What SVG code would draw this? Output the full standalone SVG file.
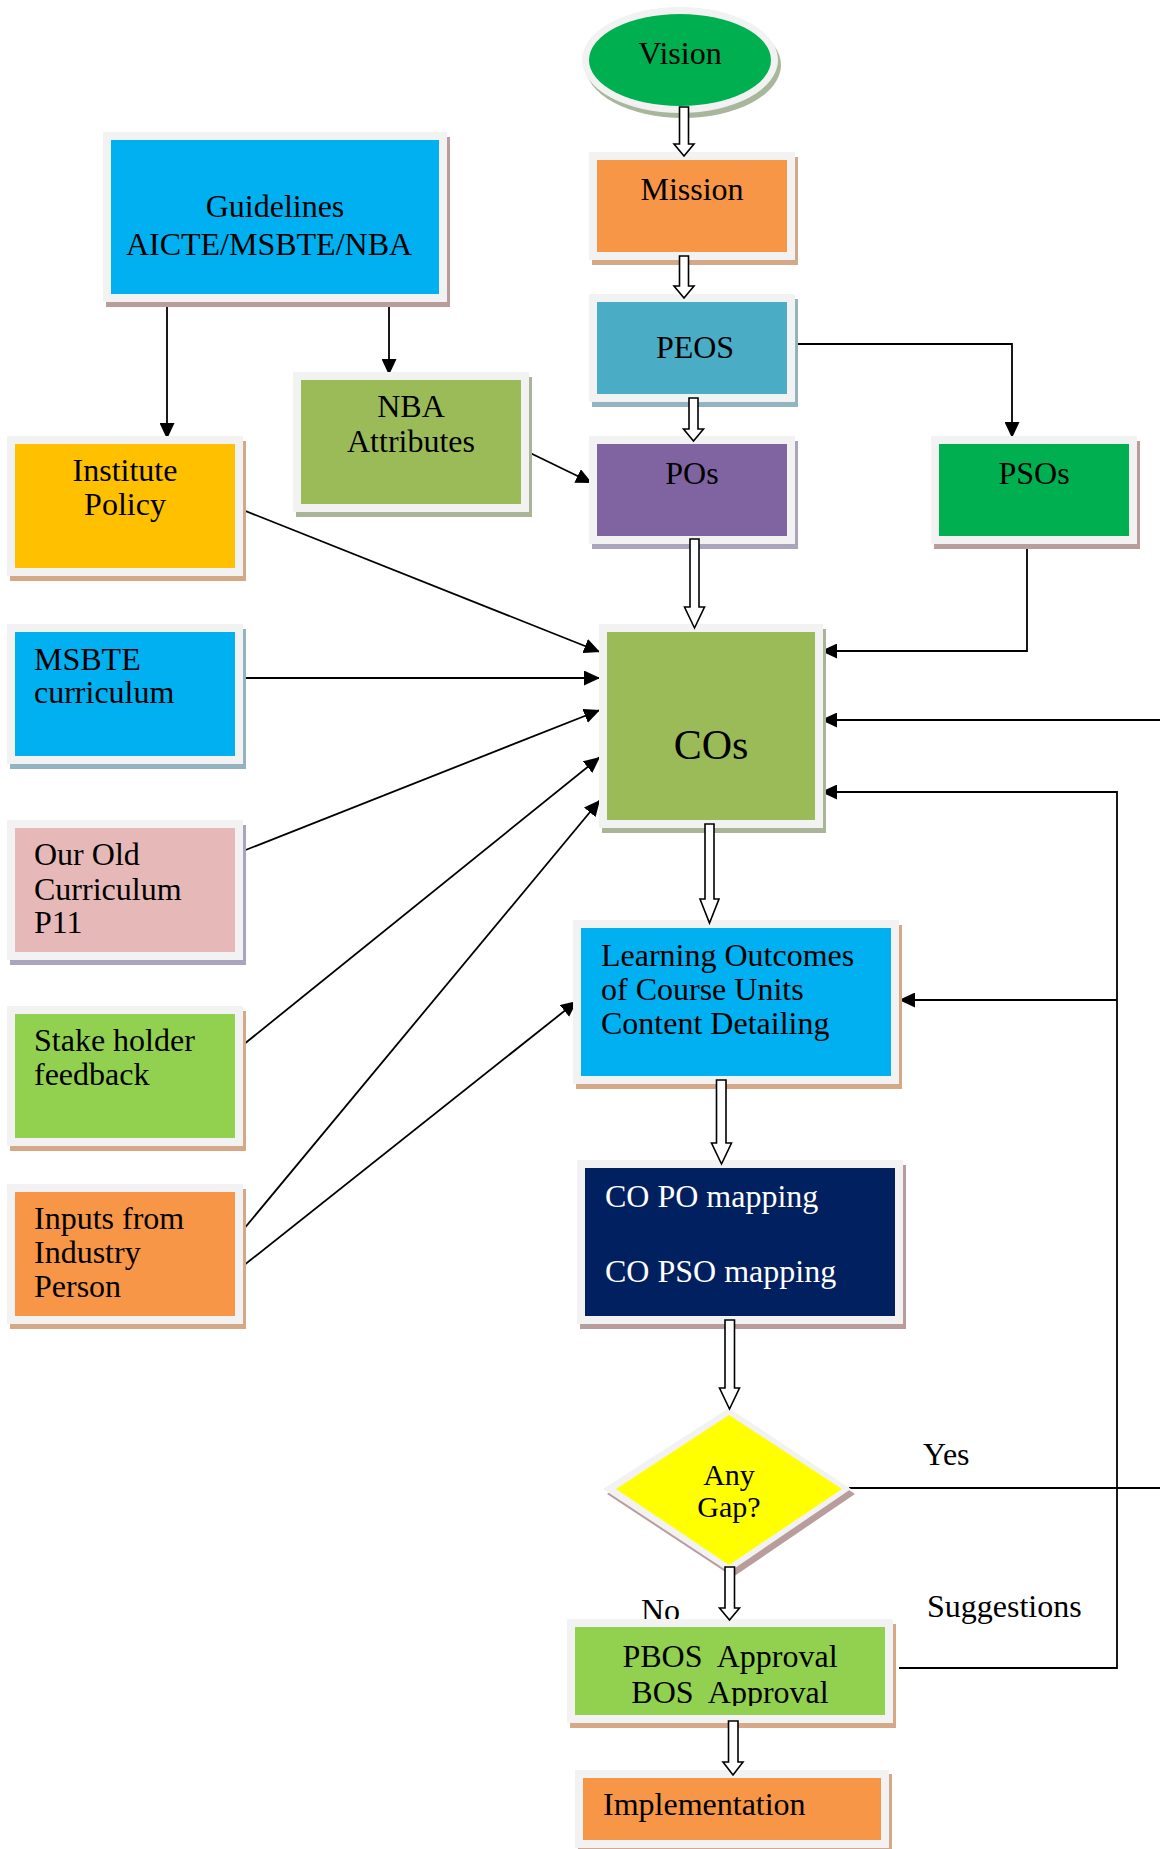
<svg xmlns="http://www.w3.org/2000/svg" width="1160" height="1849" viewBox="0 0 1160 1849">
<defs>
<style>
text{font-family:"Liberation Serif","Times New Roman",serif;font-size:32px;fill:#000}
.c{text-anchor:middle}
.w{fill:#fff}
.b{fill:#f2f2f2}
.ln{fill:none;stroke:#000;stroke-width:1.8}
.ba{fill:#fff;stroke:#000;stroke-width:1.6;stroke-linejoin:miter}
.sh-tan{fill:#d5a987}
.sh-blu{fill:#94b3c1}
.sh-pur{fill:#aaa4bd}
.sh-pnk{fill:#b99c9c}
.sh-grn{fill:#aab597}
</style>
<marker id="ah" markerUnits="userSpaceOnUse" markerWidth="17" markerHeight="15" refX="16" refY="7.5" orient="auto">
<path d="M0,0 L16,7.5 L0,15 Z" fill="#000"/>
</marker>
<clipPath id="pbosclip"><rect x="567" y="1619" width="330" height="87"/></clipPath>
</defs>

<g id="connectors">
<path class="ln" d="M167,297 V439" marker-end="url(#ah)"/>
<path class="ln" d="M389,297 V375" marker-end="url(#ah)"/>
<path class="ln" d="M524,450 L592,483" marker-end="url(#ah)"/>
<path class="ln" d="M791,344 H1012 V438" marker-end="url(#ah)"/>
<path class="ln" d="M1027,539 V651 H821" marker-end="url(#ah)"/>
<path class="ln" d="M849,1488 H1175 V720 H821" marker-end="url(#ah)"/>
<path class="ln" d="M899,1668 H1117 V792 H821" marker-end="url(#ah)"/>
<path class="ln" d="M1117,1000 H899" marker-end="url(#ah)"/>
<path class="ln" d="M238,508 L600,652" marker-end="url(#ah)"/>
<path class="ln" d="M238,678 L600,678" marker-end="url(#ah)"/>
<path class="ln" d="M238,853 L600,710" marker-end="url(#ah)"/>
<path class="ln" d="M238,1049 L600,757" marker-end="url(#ah)"/>
<path class="ln" d="M238,1236 L600,800" marker-end="url(#ah)"/>
<path class="ln" d="M238,1270 L577,1001" marker-end="url(#ah)"/>
<text x="923" y="1465">Yes</text>
<text x="927" y="1617">Suggestions</text>
<text x="641" y="1621">No</text>
</g>

<g id="vision">
<ellipse cx="683" cy="65" rx="98" ry="53" fill="#a8b79b"/>
<ellipse cx="680" cy="60" rx="98" ry="53" class="b"/>
<ellipse cx="680" cy="60" rx="91" ry="46" fill="#00b050"/>
<text class="c" x="680" y="64">Vision</text>
</g>

<g id="mission">
<rect x="592" y="157" width="206" height="108" class="sh-tan"/>
<rect x="589" y="152" width="206" height="108" class="b"/>
<rect x="597" y="160" width="190" height="92" fill="#f79646"/>
<text class="c" x="692" y="200">Mission</text>
</g>

<g id="peos">
<rect x="592" y="299" width="206" height="108" class="sh-blu"/>
<rect x="589" y="294" width="206" height="108" class="b"/>
<rect x="597" y="302" width="190" height="92" fill="#4bacc6"/>
<text class="c" x="695" y="358">PEOS</text>
</g>

<g id="pos">
<rect x="592" y="441" width="206" height="108" class="sh-pur"/>
<rect x="589" y="436" width="206" height="108" class="b"/>
<rect x="597" y="444" width="190" height="92" fill="#8064a2"/>
<text class="c" x="692" y="484">POs</text>
</g>

<g id="psos">
<rect x="934" y="441" width="206" height="108" class="sh-pnk"/>
<rect x="931" y="436" width="206" height="108" class="b"/>
<rect x="939" y="444" width="190" height="92" fill="#00b050"/>
<text class="c" x="1034" y="484">PSOs</text>
</g>

<g id="guidelines">
<rect x="106" y="137" width="344" height="170" class="sh-pnk"/>
<rect x="103" y="132" width="344" height="170" class="b"/>
<rect x="111" y="140" width="328" height="154" fill="#00b0f0"/>
<text class="c" x="275" y="217">Guidelines</text>
<text class="c" x="269" y="255">AICTE/MSBTE/NBA</text>
</g>

<g id="nba">
<rect x="296" y="377" width="236" height="140" class="sh-grn"/>
<rect x="293" y="372" width="236" height="140" class="b"/>
<rect x="301" y="380" width="220" height="124" fill="#9bbb59"/>
<text class="c" x="411" y="417">NBA</text>
<text class="c" x="411" y="452">Attributes</text>
</g>

<g id="institute">
<rect x="10" y="441" width="236" height="140" class="sh-tan"/>
<rect x="7" y="436" width="236" height="140" class="b"/>
<rect x="15" y="444" width="220" height="124" fill="#ffc000"/>
<text class="c" x="125" y="481">Institute</text>
<text class="c" x="125" y="515">Policy</text>
</g>

<g id="msbte">
<rect x="10" y="629" width="236" height="140" class="sh-blu"/>
<rect x="7" y="624" width="236" height="140" class="b"/>
<rect x="15" y="632" width="220" height="124" fill="#00b0f0"/>
<text x="34" y="670">MSBTE</text>
<text x="34" y="703">curriculum</text>
</g>

<g id="oldcurriculum">
<rect x="10" y="825" width="236" height="140" class="sh-pur"/>
<rect x="7" y="820" width="236" height="140" class="b"/>
<rect x="15" y="828" width="220" height="124" fill="#e6b9b8"/>
<text x="34" y="865">Our Old</text>
<text x="34" y="900">Curriculum</text>
<text x="34" y="933">P11</text>
</g>

<g id="stakeholder">
<rect x="10" y="1011" width="236" height="140" class="sh-tan"/>
<rect x="7" y="1006" width="236" height="140" class="b"/>
<rect x="15" y="1014" width="220" height="124" fill="#92d050"/>
<text x="34" y="1051">Stake holder</text>
<text x="34" y="1085">feedback</text>
</g>

<g id="inputs">
<rect x="10" y="1189" width="236" height="140" class="sh-tan"/>
<rect x="7" y="1184" width="236" height="140" class="b"/>
<rect x="15" y="1192" width="220" height="124" fill="#f79646"/>
<text x="34" y="1229">Inputs from</text>
<text x="34" y="1263">Industry</text>
<text x="34" y="1297">Person</text>
</g>

<g id="cos">
<rect x="602" y="629" width="224" height="204" class="sh-grn"/>
<rect x="599" y="624" width="224" height="204" class="b"/>
<rect x="607" y="632" width="208" height="188" fill="#9bbb59"/>
<text class="c" x="711" y="759" style="font-size:42px">COs</text>
</g>

<g id="learningoutcomes">
<rect x="576" y="925" width="326" height="164" class="sh-tan"/>
<rect x="573" y="920" width="326" height="164" class="b"/>
<rect x="581" y="928" width="310" height="148" fill="#00b0f0"/>
<text x="601" y="966">Learning Outcomes</text>
<text x="601" y="1000">of Course Units</text>
<text x="601" y="1034">Content Detailing</text>
</g>

<g id="mapping">
<rect x="580" y="1165" width="326" height="164" class="sh-pnk"/>
<rect x="577" y="1160" width="326" height="164" class="b"/>
<rect x="585" y="1168" width="310" height="148" fill="#002060"/>
<text class="w" x="605" y="1207">CO PO mapping</text>
<text class="w" x="605" y="1282">CO PSO mapping</text>
</g>

<g id="gap">
<polygon points="733,1413 855,1494 733,1577 607,1494" class="sh-pnk"/>
<polygon points="729,1408 851,1489 729,1572 603,1489" class="b"/>
<polygon points="729,1415 842,1489 729,1565 616,1489" fill="#ffff00"/>
<text class="c" x="729" y="1485" style="font-size:30px">Any</text>
<text class="c" x="729" y="1517" style="font-size:30px">Gap?</text>
</g>

<g id="approval">
<rect x="570" y="1624" width="326" height="104" class="sh-tan"/>
<rect x="567" y="1619" width="326" height="104" class="b"/>
<rect x="575" y="1627" width="310" height="88" fill="#92d050"/>
<g clip-path="url(#pbosclip)">
<text class="c" x="730" y="1667" style="white-space:pre">PBOS  Approval</text>
<text class="c" x="730" y="1703" style="white-space:pre">BOS  Approval</text>
</g>
</g>

<g id="implementation">
<rect x="578" y="1774" width="314" height="78" class="sh-tan"/>
<rect x="575" y="1770" width="314" height="78" class="b"/>
<rect x="583" y="1778" width="298" height="62" fill="#f79646"/>
<text x="603" y="1815">Implementation</text>
</g>

<g id="blockarrows">
<path class="ba" d="M679.5,107 H688.5 V144 H694 L684,156 L674,144 H679.5 Z"/>
<path class="ba" d="M679.5,256 H688.5 V286 H694 L684,298 L674,286 H679.5 Z"/>
<path class="ba" d="M689,398 H698 V429 H703.5 L693.5,441 L683.5,429 H689 Z"/>
<path class="ba" d="M690,539 H699 V607 H704.5 L694.5,628 L684.5,607 H690 Z"/>
<path class="ba" d="M705,824 H714 V899 H719 L709.5,923 L700,899 H705 Z"/>
<path class="ba" d="M716.5,1080 H726 V1143 H731.5 L721.5,1164 L711.5,1143 H716.5 Z"/>
<path class="ba" d="M725,1320 H734.5 V1388 H739.5 L729.5,1409 L719.5,1388 H725 Z"/>
<path class="ba" d="M725,1567 H734.5 V1608 H739.5 L729.5,1620 L719.5,1608 H725 Z"/>
<path class="ba" d="M728.5,1721 H738 V1762 H743 L733,1775 L723,1762 H728.5 Z"/>
</g>
</svg>
